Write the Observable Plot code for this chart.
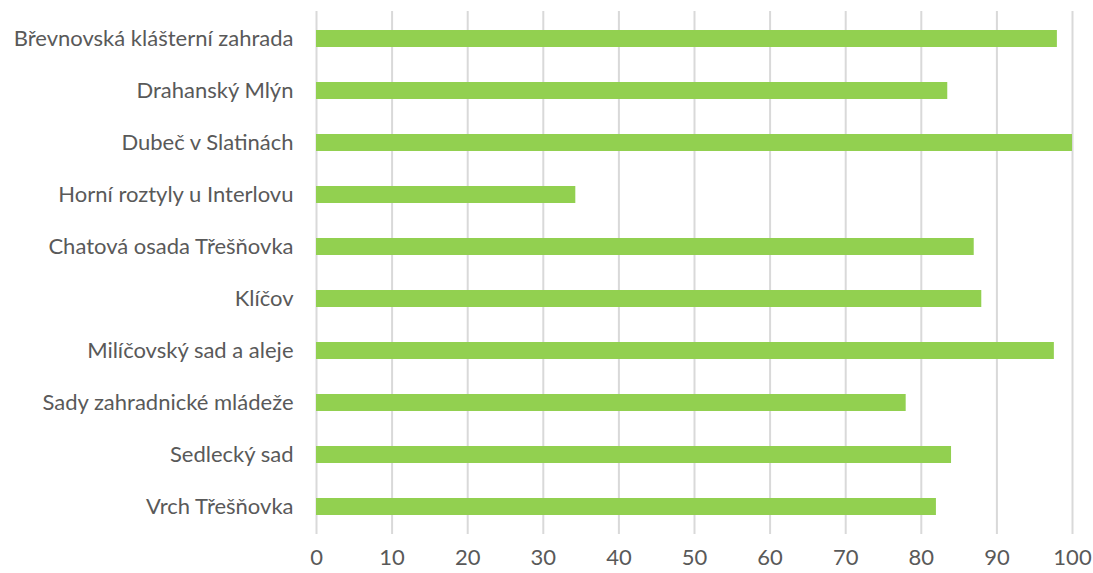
<!DOCTYPE html>
<html>
<head>
<meta charset="utf-8">
<script src="https://cdn.jsdelivr.net/npm/d3@7"></script>
<script src="https://cdn.jsdelivr.net/npm/@observablehq/plot@0.6"></script>
<style>
  html, body { margin: 0; padding: 0; background: #fff; }
</style>
</head>
<body>
<div id="chart"></div>
<script>
const categories = [
  "Břevnovská klášterní zahrada",
  "Drahanský Mlýn",
  "Dubeč v Slatinách",
  "Horní roztyly u Interlovu",
  "Chatová osada Třešňovka",
  "Klíčov",
  "Milíčovský sad a aleje",
  "Sady zahradnické mládeže",
  "Sedlecký sad",
  "Vrch Třešňovka"
];
const values = [98, 83.5, 100, 34.3, 87, 88, 97.6, 78, 84, 82];
const xTicks = [0, 10, 20, 30, 40, 50, 60, 70, 80, 90, 100];

const data = categories.map((c, i) => ({name: c, value: values[i]}));

const chart = Plot.plot({
  width: 1093,
  height: 573,
  marginLeft: 316,
  marginRight: 21,
  marginTop: 11,
  marginBottom: 39,
  style: {fontFamily: "Lato, 'Open Sans', sans-serif", fontSize: "22px", color: "#595959", background: "#fff"},
  x: {domain: [0, 100], ticks: xTicks, label: null},
  y: {domain: categories, paddingInner: 0.67, paddingOuter: 0.335, label: null},
  marks: [
    Plot.gridX(xTicks, {stroke: "#d9d9d9", strokeOpacity: 1, strokeWidth: 2}),
    Plot.barX(data, {x: "value", y: "name", fill: "#92d050"}),
    Plot.axisX({ticks: xTicks, tickSize: 0, tickPadding: 15, fontSize: 22, fill: "#595959"}),
    Plot.axisY({tickSize: 0, tickPadding: 23, fontSize: 22, fill: "#595959"})
  ]
});
document.getElementById("chart").appendChild(chart);
</script>
</body>
</html>
